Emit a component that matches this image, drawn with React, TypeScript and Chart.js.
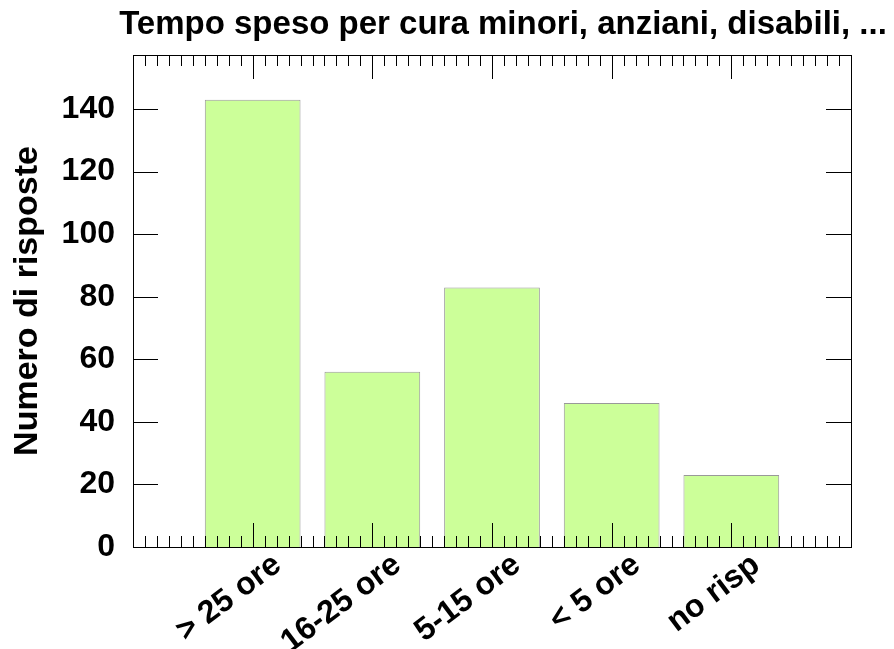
import React, { useEffect, useRef } from "react";
import { Chart, registerables } from "chart.js";

Chart.register(...registerables);

const TITLE = "Tempo speso per cura minori, anziani, disabili, ...";
const Y_TITLE = "Numero di risposte";
const categories = ["> 25 ore", "16-25 ore", "5-15 ore", "< 5 ore", "no risp"];
const values = [143, 56, 83, 46, 23];
const yMax = 157.3;
const yStep = 20;

const FONT = "'Liberation Sans', Arial, sans-serif";

const framePlugin = {
  id: "gnuFrame",
  afterDatasetsDraw(chart: any) {
    const { ctx, chartArea } = chart;
    const { left, right, top, bottom } = chartArea;
    const xs = chart.scales.x;
    const ys = chart.scales.y;
    ctx.save();
    ctx.strokeStyle = "#000";
    ctx.lineWidth = 1;
    ctx.beginPath();
    for (let v = 0; v <= yMax; v += yStep) {
      const y = Math.round(ys.getPixelForValue(v)) + 0.5;
      ctx.moveTo(left, y);
      ctx.lineTo(left + 25, y);
      ctx.moveTo(right, y);
      ctx.lineTo(right - 25, y);
    }
    const n = categories.length;
    for (let k = 1; k < (n + 1) * 10; k++) {
      const idx = k / 10;
      const x = Math.round(xs.getPixelForValue(idx)) + 0.5;
      const major = k % 10 === 0;
      const len = major ? 24 : 11;
      ctx.moveTo(x, bottom);
      ctx.lineTo(x, bottom - len);
      ctx.moveTo(x, top);
      ctx.lineTo(x, top + len);
    }
    ctx.stroke();
    ctx.strokeRect(Math.round(left) + 0.5, Math.round(top) + 0.5, Math.round(right - left), Math.round(bottom - top));
    ctx.fillStyle = "#000";
    ctx.textAlign = "center";
    ctx.textBaseline = "alphabetic";
    ctx.font = `bold 33px ${FONT}`;
    ctx.fillText(TITLE, 503, 34);
    ctx.save();
    ctx.font = `bold 34px ${FONT}`;
    ctx.translate(37, (top + bottom) / 2);
    ctx.rotate(-Math.PI / 2);
    ctx.fillText(Y_TITLE, 0, 0);
    ctx.restore();
    ctx.restore();
  },
};

export default function App() {
  const ref = useRef<HTMLCanvasElement | null>(null);
  useEffect(() => {
    if (!ref.current) return;
    const labels = ["", ...categories, ""];
    const data = [null, ...values, null];
    const chart = new Chart(ref.current, {
      type: "bar",
      data: {
        labels,
        datasets: [
          {
            data,
            backgroundColor: "#ccff99",
            borderColor: "#999999",
            borderWidth: 1,
            categoryPercentage: 1,
            barPercentage: 0.8,
          },
        ],
      },
      options: {
        responsive: false,
        animation: false,
        layout: { padding: { left: 0, right: 43, top: 55, bottom: 0 } },
        plugins: { legend: { display: false }, title: { display: false }, tooltip: { enabled: false } },
        scales: {
          x: {
            type: "category",
            offset: false,
            grid: { display: false, drawTicks: false },
            border: { display: false },
            ticks: {
              autoSkip: false,
              maxRotation: 37,
              minRotation: 37,
              labelOffset: 25,
              padding: -1,
              color: "#000",
              font: { family: FONT, size: 32, weight: "bold" },
            },
            afterFit: (s: any) => {
              s.height = 102;
            },
          },
          y: {
            min: 0,
            max: yMax,
            grid: { display: false, drawTicks: false },
            border: { display: false },
            ticks: {
              stepSize: yStep,
              includeBounds: false,
              padding: 18,
              color: "#000",
              font: { family: FONT, size: 32, weight: "bold" },
            },
            afterFit: (s: any) => {
              s.width = 133;
            },
          },
        },
      },
      plugins: [framePlugin],
    });
    return () => chart.destroy();
  }, []);
  return (
    <div style={{ position: "fixed", left: 0, top: 0, width: 894, height: 649, background: "#fff" }}>
      <canvas ref={ref} width={894} height={649} />
    </div>
  );
}
